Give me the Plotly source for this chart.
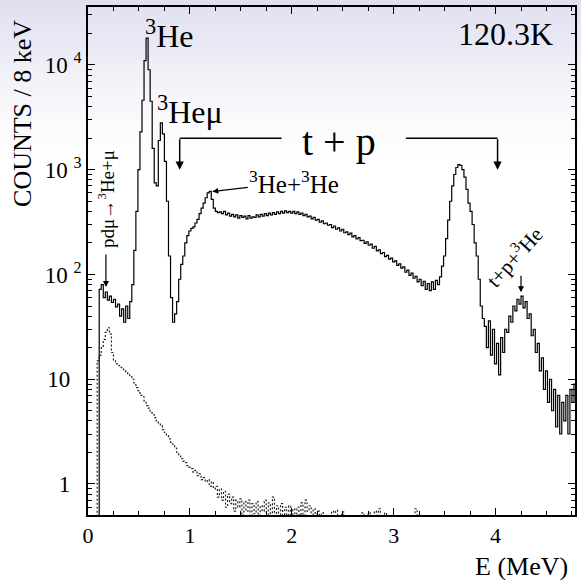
import plotly.graph_objects as go
import numpy as np

# ---------------- data ----------------
BIN_WIDTH = 0.02  # MeV (plotted resolution)

# main spectrum (solid), bin centres start at 0.09 MeV
main_start = 0.09
main_counts = [
    0.3, 72, 80, 60, 68, 57, 62, 54, 58, 49, 52, 40, 47, 35, 50, 38,
    55, 80, 170, 400, 1000, 2300, 4600, 11000, 18000, 9000, 4500, 1600, 750, 700,
    1900, 2800, 2200, 1200, 500, 150, 60, 35, 42, 55, 90, 125, 150, 200, 235, 260,
    275, 285, 310, 335, 380, 430, 480, 540, 600, 620, 520, 430, 400, 390, 395,
    380, 400, 370, 385, 360, 375, 355, 370, 345, 365, 350, 360, 340, 365, 345,
    355, 350, 370, 355, 375, 360, 380, 365, 385, 370, 390, 375, 395, 380, 400,
    385, 405, 390, 400, 385, 400, 380, 395, 375, 385, 365, 375, 355, 360, 340,
    350, 330, 335, 315, 325, 305, 310, 295, 300, 280, 290, 270, 278, 260, 270,
    250, 255, 240, 248, 228, 235, 218, 225, 210, 212, 198, 205, 190, 195, 178,
    185, 168, 172, 158, 162, 148, 152, 140, 143, 132, 135, 122, 126, 115, 118,
    105, 110, 98, 103, 92, 96, 85, 90, 78, 86, 72, 82, 70, 85, 72, 88, 80, 95,
    120, 150, 220, 330, 500, 700, 900, 1050, 1120, 1100, 1000, 850, 650, 480,
    400, 300, 200, 150, 90, 50, 38, 32, 20, 36, 17, 30, 14, 22, 11, 25, 18, 30,
    28, 40, 35, 50, 45, 58, 52, 62, 48, 55, 38, 42, 26, 30, 18, 22, 12, 16, 8,
    12, 6, 10, 5, 8, 3.5, 7, 3, 6, 4, 7, 3, 8, 6, 9, 3,
]

# background spectrum (dotted), bin centres start at 0.07 MeV
bg_start = 0.07
bg_counts = [
    0.3, 15, 17, 20, 24, 28, 31, 27, 18, 15, 14, 13.5, 13, 12.5, 12, 11.5, 11,
    10.8, 10, 9.2, 8.3, 7.8, 7, 6.8, 6.2, 5.6, 5.3, 4.8, 4.6, 4.3, 4.0, 3.8, 3.6,
    3.3, 3.1, 2.9, 2.7, 2.5, 2.4, 2.2, 2.0, 1.85, 1.75, 1.65, 1.6, 1.5, 1.45, 1.4,
    1.3, 1.35, 1.2, 1.25, 1.1, 1.15, 1.05, 1.1, 0.95, 1.05, 0.9, 0.95, 0.75, 0.9,
    0.7, 0.85, 0.6, 0.8, 0.65, 0.75, 0.55, 0.7, 0.6, 0.72, 0.5, 0.68, 0.55, 0.7,
    0.45, 0.65, 0.52, 0.68, 0.48, 0.62, 0.55, 0.7, 0.45, 0.66, 0.52, 0.75, 0.48,
    0.62, 0.45, 0.65, 0.5, 0.6, 0.42, 0.62, 0.5, 0.58, 0.45, 0.6, 0.48, 0.66, 0.5,
    0.7, 0.55, 0.62, 0.45, 0.58, 0.45, 0.55, 0.4, 0.53, 0.3,
    0.3, 0.3, 0.3, 0.55, 0.3, 0.56, 0.3, 0.3, 0.54, 0.3, 0.3, 0.3, 0.3, 0.3,
    0.3, 0.3, 0.3, 0.3, 0.53, 0.3, 0.3, 0.53, 0.3, 0.3, 0.55, 0.3, 0.58, 0.3,
    0.3, 0.53, 0.3, 0.3, 0.3, 0.3, 0.3, 0.3, 0.3, 0.3, 0.3, 0.3, 0.3, 0.3, 0.3,
    0.3, 0.58, 0.3, 0.3, 0.3, 0.3,
]

y_tickvals = [1, 10, 100, 1000, 10000]
y_ticktext = ["1\u00a0\u00a0", "10\u00a0\u00a0", "10 <sup>2</sup>", "10 <sup>3</sup>", "10 <sup>4</sup>"]
x_tickvals = [0, 1, 2, 3, 4]
x_ticktext = ["0", "1", "2", "3", "4"]

main_E = main_start + BIN_WIDTH * np.arange(len(main_counts))
bg_E = bg_start + BIN_WIDTH * np.arange(len(bg_counts))

FONT = "Liberation Serif, Times New Roman, Times, serif"

fig = go.Figure()
fig.add_trace(go.Scatter(x=bg_E, y=bg_counts, mode="lines", line_shape="hv",
                         line=dict(color="#222222", width=1.2, dash="2px,2px"),
                         showlegend=False))
fig.add_trace(go.Scatter(x=main_E, y=main_counts, mode="lines", line_shape="hv",
                         line=dict(color="black", width=1.2), showlegend=False))

# ------------- background gradient (top lavender fade) -------------
H_PLOT = 508.0
shapes = []
n = 40
for i in range(n):
    y0px = i * 4.0
    y1px = y0px + 4.0
    t = max(0.0, 1 - (y0px + 2) / 165.0) ** 1.4
    r = int(round(255 - (255 - 222) * t))
    b = int(round(255 - (255 - 240) * t))
    shapes.append(dict(type="rect", xref="paper", yref="paper",
                       x0=-0.2, x1=1.02,
                       y0=(515 - y1px) / H_PLOT, y1=(515 - y0px) / H_PLOT,
                       fillcolor=f"rgb({r},{r},{b})", line=dict(width=0), layer="below"))

# bracket horizontal lines (t + p)
shapes.append(dict(type="line", xref="x", yref="y", x0=0.9, x1=1.90, y0=2000, y1=2000,
                   line=dict(color="black", width=1.5)))
shapes.append(dict(type="line", xref="x", yref="y", x0=3.12, x1=4.02, y0=2000, y1=2000,
                   line=dict(color="black", width=1.5)))

fig.update_layout(shapes=shapes)

ann = []
def A(**kw):
    base = dict(xref="x", yref="y", showarrow=False, xanchor="center", yanchor="middle",
                font=dict(family=FONT, size=22, color="black"))
    base.update(kw)
    ann.append(base)

A(x=0.80, y=4.30, text="<sup>3</sup>He", font=dict(family=FONT, size=32, color="black"))
A(x=1.00, y=3.57, text="<sup>3</sup>Heμ", font=dict(family=FONT, size=32, color="black"))
A(x=2.46, y=3.27, text="t + p", font=dict(family=FONT, size=40, color="black"))
A(x=4.10, y=4.30, text="120.3K", font=dict(family=FONT, size=32, color="black"))
# bracket arrows
A(x=0.9, y=3.0, ax=0, ay=-32, text="", showarrow=True, arrowhead=2, arrowsize=1.1,
  arrowwidth=1.5, arrowcolor="black")
A(x=4.02, y=3.0, ax=0, ay=-32, text="", showarrow=True, arrowhead=2, arrowsize=1.1,
  arrowwidth=1.5, arrowcolor="black")
# 3He+3He
A(x=1.21, y=2.79, ax=83, ay=-10, text="<sup>3</sup>He+<sup>3</sup>He", showarrow=True,
  arrowhead=2, arrowsize=1.0, arrowwidth=1.2, arrowcolor="black", standoff=1,
  font=dict(family=FONT, size=25, color="black"))
# pdmu
A(x=0.176, y=1.88, ax=0, ay=-34, text="", showarrow=True, arrowhead=2, arrowsize=1.0,
  arrowwidth=1.2, arrowcolor="black")
A(x=0.176, y=2.72, text="pdμ→<sup>3</sup>He+μ", textangle=-90,
  font=dict(family=FONT, size=19, color="black"))
# t+p+3He
A(x=4.25, y=1.83, ax=0, ay=-18, text="", showarrow=True, arrowhead=2, arrowsize=1.0,
  arrowwidth=1.2, arrowcolor="black")
A(x=4.18, y=2.17, text="t+p+<sup>3</sup>He", textangle=-48,
  font=dict(family=FONT, size=21, color="black"))
# axis titles
ann.append(dict(xref="paper", yref="paper", x=-0.135, y=0.79, xanchor="center", yanchor="middle",
                text="COUNTS / 8 keV",
                textangle=-90, showarrow=False, font=dict(family=FONT, size=26, color="black")))
ann.append(dict(xref="paper", yref="paper", x=0.89, y=-0.102, xanchor="center", yanchor="middle",
                text="E (MeV)",
                showarrow=False, font=dict(family=FONT, size=26, color="black")))
fig.update_layout(annotations=ann)

minor_y = [m * 10 ** d for d in range(-1, 5) for m in range(2, 10)]

fig.update_layout(
    width=581, height=580,
    margin=dict(l=88, r=4, t=7, b=65),
    paper_bgcolor="white",
    plot_bgcolor="rgba(0,0,0,0)",
    font=dict(family=FONT, size=22, color="black"),
    showlegend=False,
    xaxis=dict(range=[0, 4.78], showgrid=False, zeroline=False,
               tickvals=x_tickvals, ticktext=x_ticktext,
               ticks="inside", ticklen=7, tickwidth=1, tickcolor="black",
               showline=True, linewidth=1.5, linecolor="black", mirror="allticks",
               tickfont=dict(family=FONT, size=22),
               minor=dict(ticks="inside", ticklen=4, tickcolor="black", dtick=0.25, showgrid=False)),
    yaxis=dict(type="log", range=[-0.296, 4.553], showgrid=False, zeroline=False,
               tickvals=y_tickvals, ticktext=y_ticktext,
               ticks="inside", ticklen=7, tickwidth=1, tickcolor="black",
               showline=True, linewidth=1.5, linecolor="black", mirror="allticks",
               tickfont=dict(family=FONT, size=23),
               minor=dict(ticks="inside", ticklen=4, tickcolor="black", tickvals=minor_y, showgrid=False)),
)

fig.write_html("out.html")
